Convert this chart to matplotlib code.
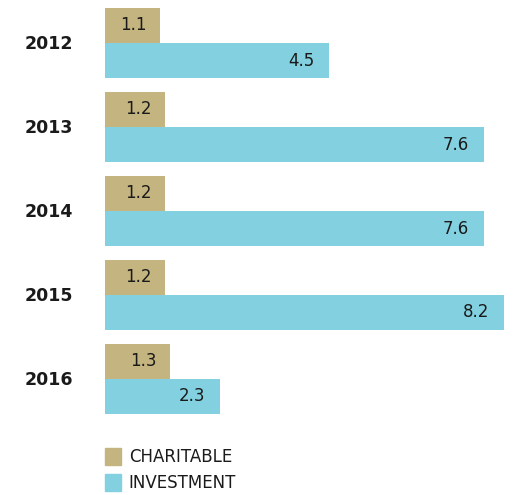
import numpy as np
import matplotlib.pyplot as plt
from matplotlib.patches import Patch

years = ["2012", "2013", "2014", "2015", "2016"]
charitable = [1.1, 1.2, 1.2, 1.2, 1.3]
investment = [4.5, 7.6, 7.6, 8.2, 2.3]

TAN = "#C4B47F"
CYAN = "#82D0E0"
TEXT = "#1a1a1a"

plt.rcParams['font.family'] = ['DejaVu Sans']

W, H = 517, 495
fig = plt.figure(figsize=(W / 100, H / 100), dpi=100)

# bar area: 105..504 px wide, 8..414 px tall
ax = fig.add_axes([105 / W, 1 - 414 / H, (504 - 105) / W, (414 - 8) / H])
bh = 35 / 84
y = np.arange(len(years))

ax.barh(y - bh / 2, charitable, height=bh, color=TAN)
ax.barh(y + bh / 2, investment, height=bh, color=CYAN)

# the longest bar runs to the right edge of the panel
xmax = 8.0
ax.set_xlim(0, xmax)
ax.set_ylim(len(years) - 1 + bh, -bh)
ax.axis("off")

pad = 0.3
for i in range(len(years)):
    ax.text(min(charitable[i], xmax) - pad + 0.04, y[i] - bh / 2, f"{charitable[i]:.1f}",
            ha="right", va="center", fontsize=12, color=TEXT)
    ax.text(min(investment[i], xmax) - pad, y[i] + bh / 2, f"{investment[i]:.1f}",
            ha="right", va="center", fontsize=12, color=TEXT)
    fig.text(49 / W, 1 - (44 + 84 * i) / H, years[i],
             ha="center", va="center", fontsize=12.5, fontweight="semibold", color=TEXT)

handles = [Patch(color=TAN, label="CHARITABLE"), Patch(color=CYAN, label="INVESTMENT")]
fig.legend(handles=handles, loc="upper left", bbox_to_anchor=(93 / W, 1 - 436 / H),
           frameon=False, fontsize=12, handlelength=1.0, handleheight=1.2,
           handletextpad=0.45, labelspacing=0.5, borderpad=0.2, labelcolor=TEXT)

fig.savefig("out.png", dpi=100)
